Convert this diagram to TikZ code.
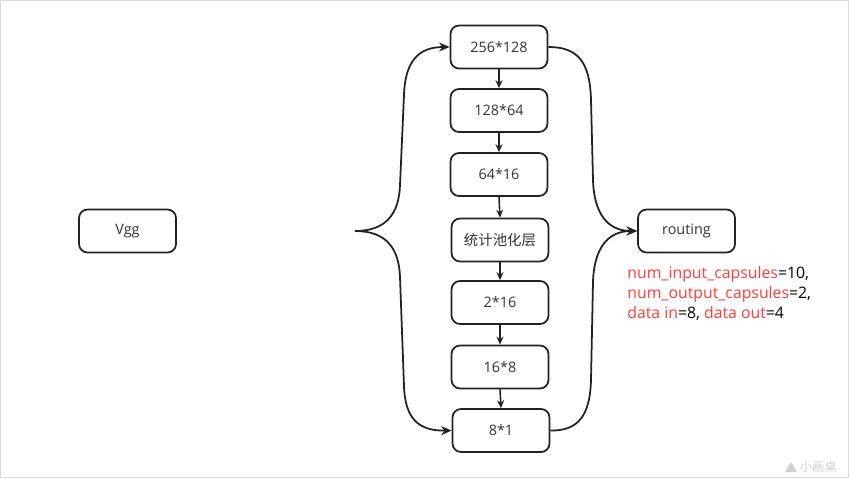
\documentclass[tikz,border=0pt]{standalone}
\usepackage{fontspec}
\setmainfont{Open Sans}
\newfontfamily\cjk{Noto Sans CJK SC}
\usetikzlibrary{arrows.meta}
\definecolor{paramRed}{HTML}{FF3B3B}
\definecolor{inkGray}{HTML}{222222}
\definecolor{frameGray}{HTML}{D9D9D9}

\begin{document}
\begin{tikzpicture}[%%
  x=0.02cm,y=-0.02cm,%%
  boxStyle/.style={draw=inkGray,line width=1pt,rounded corners=0.17cm,
    minimum width=1.94cm,minimum height=0.86cm,inner sep=0pt,
    font=\fontsize{8.2}{10}\selectfont,text=black!80},%%
  stepArrow/.style={-{Stealth[length=4.5pt,width=4pt]},line width=0.9pt,draw=inkGray},%%
  curveStyle/.style={line width=1pt,draw=inkGray},%%
  curveArrow/.style={curveStyle,-{Stealth[length=6pt,width=5pt]}},%%
]
%%
%% Canvas and its light frame.
\useasboundingbox (0,0) rectangle (849,478);
\draw[frameGray,line width=0.6pt] (0.5,0.5) rectangle (848.5,477.5);
%%
%% The backbone.
\node[boxStyle] (vgg) at (127.5,231) {Vgg};
%%
%% The column of feature maps.
\node[boxStyle] (mapA) at (499,47) {256*128};
\node[boxStyle] (mapB) at (499,110.5) {128*64};
\node[boxStyle] (mapC) at (499,174.5) {64*16};
\node[boxStyle] (pool) at (500,240) {\cjk 统计池化层};
\node[boxStyle] (mapD) at (500,302.5) {2*16};
\node[boxStyle] (mapE) at (500,367) {16*8};
\node[boxStyle] (mapF) at (501,430.5) {8*1};
%%
%% The routing block and its parameters.
\node[boxStyle] (routing) at (686.5,231) {routing};
\node[anchor=north west,align=left,inner sep=0pt,
  font=\fontsize{9}{11.4}\selectfont] (params) at (627,266)
  {\textcolor{paramRed}{num\_input\_capsules}=10,\\
   \textcolor{paramRed}{num\_output\_capsules}=2,\\
   \textcolor{paramRed}{data in}=8, \textcolor{paramRed}{data out}=4};
%%
%% Arrows down the column.
\foreach \top/\bottom in {mapA/mapB,mapB/mapC,mapC/pool,pool/mapD,mapD/mapE,mapE/mapF}
  \draw[stepArrow] (\top.south) -- (\bottom.north);
%%
%% The left brace.
\coordinate (braceTip) at (355,231);
\draw[curveArrow] (braceTip) .. controls (386,231) and (399,214) .. (400,185)
  -- (404,95) .. controls (405,62) and (418,47) .. (mapA.west);
\draw[curveArrow] (braceTip) .. controls (386,231) and (399,248) .. (400,277)
  -- (404,386) .. controls (405,418) and (418,431) .. (mapF.west);
%%
%% The right brace into routing.
\draw[curveArrow] (mapA.east) .. controls (578,47) and (590,62) .. (591,100)
  -- (593,180) .. controls (594,214) and (608,231) .. (routing.west);
\draw[curveArrow] (mapF.east) .. controls (578,431) and (590,416) .. (591,380)
  -- (593,282) .. controls (594,248) and (608,231) .. (routing.west);
%%
%% Watermark.
\node[text=black!18,font=\fontsize{7}{8}\cjk,anchor=east] (mark) at (843,467) {小画桌};
\fill[black!18] (785,472) -- (791,462) -- (797,472) -- cycle;
\end{tikzpicture}
\end{document}
